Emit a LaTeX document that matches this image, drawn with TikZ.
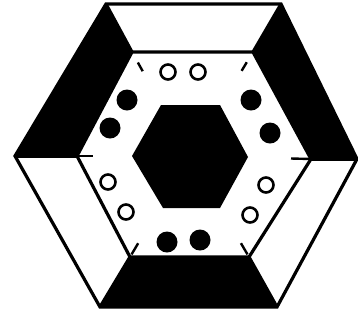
\documentclass[tikz,border=0pt]{standalone}
\usetikzlibrary{calc}
\begin{document}
\begin{tikzpicture}[
  x=1pt, y=-1pt,
  rim/.style={line width=3.2pt, line join=miter},
  tick/.style={line width=2.4pt},
  hole/.style={circle, draw, line width=2.6pt, minimum size=15pt, inner sep=0pt},
  dot/.style={circle, fill, minimum size=21pt, inner sep=0pt}
]
  \useasboundingbox (0,0) rectangle (358,325);
  % outer hexagon
  \coordinate (oL) at (15,156);
  \coordinate (oTL) at (106,4);
  \coordinate (oTR) at (281,4);
  \coordinate (oR) at (357,159);
  \coordinate (oBR) at (277,307);
  \coordinate (oBL) at (100,307);
  % middle hexagon
  \coordinate (mL) at (77,156);
  \coordinate (mTL) at (132,52);
  \coordinate (mTR) at (253,52);
  \coordinate (mR) at (311,159);
  \coordinate (mBR) at (249,257);
  \coordinate (mBL) at (130,257);
  % inner hexagon
  \coordinate (iL) at (132,156);
  \coordinate (iTL) at (161,105);
  \coordinate (iTR) at (220,105);
  \coordinate (iR) at (248,157);
  \coordinate (iBR) at (220,208);
  \coordinate (iBL) at (163,208);
  \coordinate (c) at (190,156);
  % black sectors
  \fill (oL) -- (oTL) -- (mTL) -- (mL) -- cycle;
  \fill (oTR) -- (oR) -- (mR) -- (mTR) -- cycle;
  \fill (oBR) -- (oBL) -- (mBL) -- (mBR) -- cycle;
  \draw[rim] (oL) -- (oTL) -- (oTR) -- (oR) -- (oBR) -- (oBL) -- cycle;
  \draw[rim] (mL) -- (mTL) -- (mTR) -- (mR) -- (mBR) -- (mBL) -- cycle;
  \foreach \v in {L,TL,TR,R,BR,BL}
    \draw[rim] (o\v) -- (m\v);
  % ticks at the middle corners
  \foreach \v/\a/\b in {TL/12/22, TR/12/22, BL/3/16, BR/3/16, L/0/16, R/0/20}
    \draw[tick] ($(m\v)!\a pt!(c)$) -- ($(m\v)!\b pt!(c)$);
  \fill (iL) -- (iTL) -- (iTR) -- (iR) -- (iBR) -- (iBL) -- cycle;
  % open circles
  \node[hole] (h1) at (168,72) {};
  \node[hole] (h2) at (198,72) {};
  \node[hole] (h3) at (108,182) {};
  \node[hole] (h4) at (126,212) {};
  \node[hole] (h5) at (266,185) {};
  \node[hole] (h6) at (250,215) {};
  % filled dots
  \node[dot] (d1) at (127,100) {};
  \node[dot] (d2) at (110,128) {};
  \node[dot] (d3) at (251,100) {};
  \node[dot] (d4) at (270,133) {};
  \node[dot] (d5) at (167,242) {};
  \node[dot] (d6) at (200,240) {};
\end{tikzpicture}
\end{document}
